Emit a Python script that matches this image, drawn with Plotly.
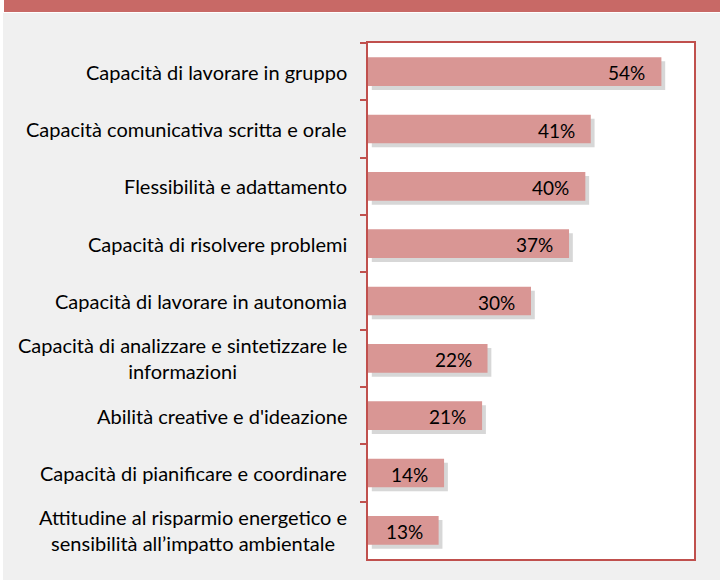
import plotly.graph_objects as go

categories = [
    "Capacità di lavorare in gruppo",
    "Capacità comunicativa scritta e orale",
    "Flessibilità e adattamento",
    "Capacità di risolvere problemi",
    "Capacità di lavorare in autonomia",
    "Capacità di analizzare e sintetizzare le<br>informazioni",
    "Abilità creative e d'ideazione",
    "Capacità di pianificare e coordinare",
    "Attitudine al risparmio energetico e<br>sensibilità all’impatto ambientale",
]
values = [54, 41, 40, 37, 30, 22, 21, 14, 13]
value_labels = ["54%", "41%", "40%", "37%", "30%", "22%", "21%", "14%", "13%"]

FONT = "Lato"
BAR = "#D99694"
RED = "#C0504D"

fig = go.Figure()
# drop shadow
fig.add_trace(go.Bar(
    y=categories, x=values, orientation="h", base=0.7,
    width=0.5, offset=-0.25 + 0.07,
    marker=dict(color="rgba(110,110,110,0.28)", line=dict(width=0)),
    hoverinfo="skip", showlegend=False,
))
fig.add_trace(go.Bar(
    y=categories, x=values, orientation="h",
    width=0.5, offset=-0.25,
    marker=dict(color=BAR, line=dict(width=0)),
    showlegend=False,
))

for c, v, t in zip(categories, values, value_labels):
    fig.add_annotation(x=v, y=c, xref="x", yref="y", text=t, showarrow=False,
                       xanchor="right", xshift=-14, yshift=-1,
                       font=dict(family=FONT, size=19, color="black"))
    fig.add_annotation(x=0, y=c, xref="paper", yref="y", text=c, showarrow=False,
                       xanchor="right", align="center", xshift=-19,
                       font=dict(family=FONT, size=20, color="black"))

L, R, T, B = 368, 26, 43, 21
W, H = 720, 580
pw, ph = W - L - R, H - T - B

def px_x(px):
    return (px - L) / pw

def px_y(py):
    return (H - B - py) / ph

fig.add_shape(type="rect", xref="paper", yref="paper",
              x0=px_x(4), x1=px_x(722), y0=px_y(12), y1=px_y(-2),
              fillcolor="#C86966", line=dict(width=0), layer="below")
fig.add_shape(type="rect", xref="paper", yref="paper",
              x0=px_x(3), x1=px_x(722), y0=px_y(582), y1=px_y(13),
              fillcolor="#F0F0F0", line=dict(width=0), layer="below")
fig.add_shape(type="rect", xref="paper", yref="paper",
              x0=0, x1=1, y0=0, y1=1,
              fillcolor="white", line=dict(width=0), layer="below")

fig.update_layout(
    width=W, height=H,
    margin=dict(l=L, r=R, t=T, b=B),
    paper_bgcolor="white",
    plot_bgcolor="white",
    barmode="overlay",
    font=dict(family=FONT, size=19, color="black"),
    xaxis=dict(range=[0, 60], showgrid=False, zeroline=False, showticklabels=False,
               showline=True, linecolor=RED, linewidth=2, mirror=True, ticks=""),
    yaxis=dict(autorange="reversed", showgrid=False, zeroline=False, showticklabels=False,
               showline=True, linecolor=RED, linewidth=2, mirror=True,
               ticks="outside", ticklen=6, tickcolor=RED, tickwidth=2,
               tickson="boundaries", type="category"),
)

fig.write_html("out.html", config={"displayModeBar": False},
               post_script="document.body.style.margin='0';document.body.style.overflow='hidden';")
